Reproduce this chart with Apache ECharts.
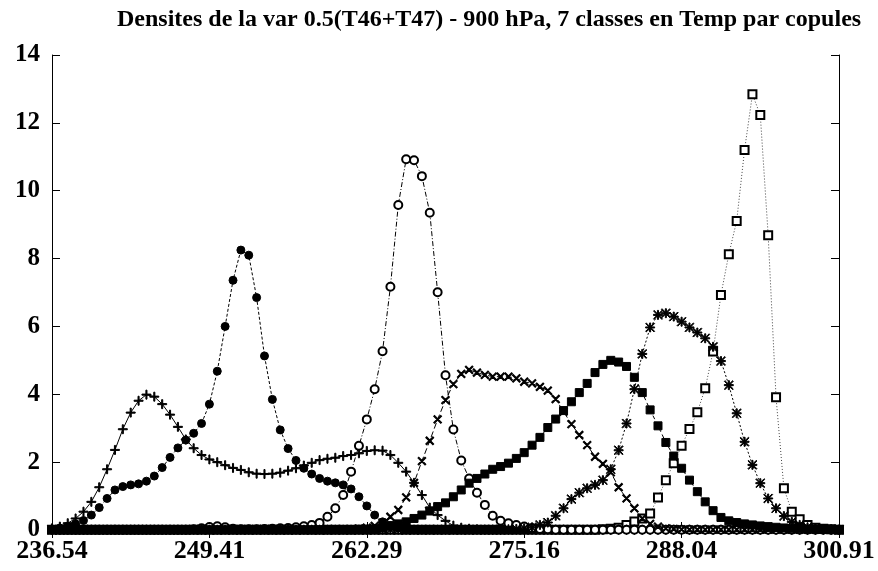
<!DOCTYPE html>
<html>
<head>
<meta charset="utf-8">
<script src="https://cdn.jsdelivr.net/npm/echarts@6/dist/echarts.min.js"></script>
<style>
html,body{margin:0;padding:0;background:#fff;}
#chart{width:878px;height:571px;}
</style>
</head>
<body>
<div id="chart"></div>
<script>
// ---- data ----
const TITLE = 'Densites de la var 0.5(T46+T47) - 900 hPa, 7 classes en Temp par copules';
const X_MIN = 236.54;
const X_MAX = 300.91;
const N_STEPS = 100;
const TICK_VALUES = [236.54, 249.414, 262.288, 275.162, 288.036, 300.91];
const TICK_LABELS = ['236.54', '249.41', '262.29', '275.16', '288.04', '300.91'];
const Y_TICKS = [0, 2, 4, 6, 8, 10, 12, 14];

// class 1 (+, solid)
const plusVals = [
0.05,0.10,0.20,0.34,0.54,0.83,1.26,1.79,2.36,2.97,
3.46,3.81,3.99,3.93,3.71,3.40,3.04,2.67,2.41,2.21,
2.08,2.00,1.91,1.83,1.77,1.70,1.66,1.65,1.66,1.69,
1.75,1.82,1.90,1.98,2.06,2.10,2.13,2.18,2.21,2.26,
2.33,2.35,2.34,2.21,1.98,1.72,1.39,1.03,0.66,0.44,
0.27,0.13,0.07,0.04,0.02,0.01,0.01,0.01,0.01,0.01,
0.01,0.01,0.01,0.01,0.01,0.01,0.01,0.01,0.01,0.01,
0.01,0.01,0.01,0.01,0.01,0.01,0.01,0.01,0.01,0.01,
0.01,0.01,0.01,0.01,0.01,0.01,0.01,0.01,0.01,0.01,
0.01,0.01,0.01,0.01,0.01,0.01,0.01,0.01,0.01,0.01,
0.01];
// class 2 (filled circle, dashed)
const dotVals = [
0.03,0.06,0.11,0.18,0.28,0.44,0.66,0.93,1.18,1.28,
1.33,1.36,1.44,1.59,1.84,2.14,2.42,2.65,2.85,3.14,
3.71,4.68,6.00,7.36,8.25,8.10,6.85,5.13,3.85,2.95,
2.40,2.05,1.82,1.65,1.52,1.44,1.39,1.33,1.21,0.98,
0.71,0.44,0.24,0.12,0.06,0.03,0.02,0.01,0.01,0.01,
0.01,0.01,0.01,0.01,0.01,0.01,0.01,0.01,0.01,0.01,
0.01,0.01,0.01,0.01,0.01,0.01,0.01,0.01,0.01,0.01,
0.01,0.01,0.01,0.01,0.01,0.01,0.01,0.01,0.01,0.01,
0.01,0.01,0.01,0.01,0.01,0.01,0.01,0.01,0.01,0.01,
0.01,0.01,0.01,0.01,0.01,0.01,0.01,0.01,0.01,0.01,
0.01];
// class 3 (open circle, dash-dot)
const ringVals = [
0.01,0.01,0.01,0.01,0.01,0.01,0.01,0.01,0.01,0.01,
0.01,0.01,0.01,0.01,0.01,0.01,0.01,0.01,0.02,0.05,
0.09,0.11,0.08,0.04,0.02,0.02,0.02,0.03,0.04,0.05,
0.06,0.08,0.11,0.15,0.21,0.39,0.64,1.03,1.72,2.48,
3.26,4.15,5.27,7.17,9.58,10.93,10.90,10.43,9.35,7.01,
4.56,2.96,2.05,1.52,1.10,0.74,0.42,0.27,0.20,0.15,
0.10,0.06,0.03,0.02,0.01,0.01,0.01,0.01,0.01,0.01,
0.01,0.01,0.01,0.01,0.01,0.01,0.01,0.01,0.01,0.01,
0.01,0.01,0.01,0.01,0.01,0.01,0.01,0.01,0.01,0.01,
0.01,0.01,0.01,0.01,0.01,0.01,0.01,0.01,0.01,0.01,
0.01];
// class 4 (x, dashed)
const crossVals = [
0.01,0.01,0.01,0.01,0.01,0.01,0.01,0.01,0.01,0.01,
0.01,0.01,0.01,0.01,0.01,0.01,0.01,0.01,0.01,0.01,
0.01,0.01,0.01,0.01,0.01,0.01,0.01,0.01,0.01,0.01,
0.01,0.01,0.01,0.01,0.01,0.01,0.01,0.02,0.02,0.04,
0.07,0.12,0.21,0.39,0.59,0.96,1.39,2.03,2.63,3.26,
3.83,4.30,4.60,4.72,4.64,4.57,4.52,4.52,4.52,4.47,
4.37,4.32,4.22,4.11,3.86,3.49,3.12,2.80,2.50,2.16,
1.95,1.70,1.26,0.93,0.64,0.34,0.18,0.10,0.05,0.03,
0.02,0.01,0.01,0.01,0.01,0.01,0.01,0.01,0.01,0.01,
0.01,0.01,0.01,0.01,0.01,0.01,0.01,0.01,0.01,0.01,
0.01];
// class 5 (filled square)
const squareVals = [
0.01,0.01,0.01,0.01,0.01,0.01,0.01,0.01,0.01,0.01,
0.01,0.01,0.01,0.01,0.01,0.01,0.01,0.01,0.01,0.01,
0.01,0.01,0.01,0.01,0.01,0.01,0.01,0.01,0.01,0.01,
0.01,0.01,0.01,0.01,0.01,0.01,0.01,0.01,0.01,0.02,
0.02,0.03,0.06,0.13,0.18,0.24,0.34,0.44,0.56,0.69,
0.80,0.98,1.18,1.38,1.52,1.65,1.79,1.87,1.97,2.11,
2.28,2.50,2.73,3.02,3.27,3.52,3.78,4.05,4.32,4.64,
4.88,5.00,4.95,4.82,4.50,4.05,3.54,3.07,2.58,2.18,
1.82,1.47,1.13,0.83,0.57,0.37,0.27,0.22,0.18,0.15,
0.12,0.10,0.08,0.06,0.05,0.04,0.03,0.03,0.02,0.02,
0.01];
// class 6 (asterisk)
const starVals = [
0.01,0.01,0.01,0.01,0.01,0.01,0.01,0.01,0.01,0.01,
0.01,0.01,0.01,0.01,0.01,0.01,0.01,0.01,0.01,0.01,
0.01,0.01,0.01,0.01,0.01,0.01,0.01,0.01,0.01,0.01,
0.01,0.01,0.01,0.01,0.01,0.01,0.01,0.01,0.01,0.01,
0.01,0.01,0.01,0.01,0.01,0.01,0.01,0.01,0.01,0.01,
0.01,0.01,0.01,0.01,0.01,0.01,0.01,0.01,0.02,0.03,
0.05,0.08,0.15,0.22,0.42,0.64,0.91,1.10,1.23,1.33,
1.47,1.79,2.35,3.14,4.15,5.19,5.97,6.34,6.39,6.29,
6.14,5.97,5.82,5.65,5.40,4.98,4.27,3.44,2.60,1.92,
1.38,0.93,0.64,0.41,0.24,0.15,0.08,0.05,0.03,0.02,
0.01];
// class 7 (open square, dotted)
const boxVals = [
0.01,0.01,0.01,0.01,0.01,0.01,0.01,0.01,0.01,0.01,
0.01,0.01,0.01,0.01,0.01,0.01,0.01,0.01,0.01,0.01,
0.01,0.01,0.01,0.01,0.01,0.01,0.01,0.01,0.01,0.01,
0.01,0.01,0.01,0.01,0.01,0.01,0.01,0.01,0.01,0.01,
0.01,0.01,0.01,0.01,0.01,0.01,0.01,0.01,0.01,0.01,
0.01,0.01,0.01,0.01,0.01,0.01,0.01,0.01,0.01,0.01,
0.01,0.01,0.01,0.01,0.01,0.01,0.01,0.01,0.01,0.01,
0.02,0.04,0.07,0.15,0.25,0.34,0.49,0.96,1.47,1.97,
2.48,2.98,3.47,4.18,5.26,6.93,8.13,9.11,11.20,12.84,
12.23,8.69,3.91,1.23,0.54,0.32,0.15,0.07,0.04,0.02,
0.01];

// ---- build ----
const step = (X_MAX - X_MIN) / N_STEPS;
function toPoints(vals) {
  return vals.map((v, i) => [X_MIN + i * step, v]);
}
const PLUS = 'path://M0,4.4L10,4.4L10,5.6L0,5.6Z M4.4,0L5.6,0L5.6,10L4.4,10Z';
const STAR = 'path://M0,4.4L10,4.4L10,5.6L0,5.6Z M4.4,0L5.6,0L5.6,10L4.4,10Z M0.7,0L10,9.3L9.3,10L0,0.7Z M9.3,0L10,0.7L0.7,10L0,9.3Z';

function mkSeries(vals, symbol, size, lineType, z, extra) {
  return Object.assign({
    type: 'line',
    data: toPoints(vals),
    symbol: symbol,
    symbolSize: size,
    showAllSymbol: true,
    smooth: false,
    clip: false,
    z: z,
    lineStyle: { color: '#000', width: 1, type: lineType },
    itemStyle: { color: '#000', borderColor: '#000', borderWidth: 1 },
    emphasis: { disabled: true }
  }, extra || {});
}

const FONT = '"Liberation Serif", "DejaVu Serif", serif';
const labelStyle = { fontFamily: FONT, fontWeight: 'bold', fontSize: 25, color: '#000' };

const chart = echarts.init(document.getElementById('chart'), null, { renderer: 'canvas' });
chart.setOption({
  animation: false,
  backgroundColor: '#fff',
  title: {
    text: TITLE,
    left: 112,
    top: 3,
    textStyle: { fontFamily: FONT, fontWeight: 'bold', fontSize: 24, color: '#000' }
  },
  grid: { left: 52, right: 39, top: 55, bottom: 41, containLabel: false },
  xAxis: [
    {
      type: 'value', min: X_MIN, max: X_MAX, position: 'bottom',
      axisLine: { show: true, lineStyle: { color: '#000', width: 1 } },
      axisTick: { show: true, inside: true, length: 8, lineStyle: { color: '#000' }, customValues: TICK_VALUES },
      axisLabel: Object.assign({ margin: 8, customValues: TICK_VALUES,
        formatter: v => { const k = TICK_VALUES.findIndex(t => Math.abs(t - v) < 1e-6); return k >= 0 ? TICK_LABELS[k] : ''; } }, labelStyle, { fontSize: 26 }),
      splitLine: { show: false }
    },
    {
      type: 'value', min: X_MIN, max: X_MAX, position: 'top',
      axisLine: { show: true, lineStyle: { color: '#000', width: 1 } },
      axisTick: { show: true, inside: true, length: 8, lineStyle: { color: '#000' }, customValues: TICK_VALUES },
      axisLabel: { show: false },
      splitLine: { show: false }
    }
  ],
  yAxis: [
    {
      type: 'value', min: 0, max: 14, interval: 2, position: 'left',
      axisLine: { show: true, lineStyle: { color: '#000', width: 1 } },
      axisTick: { show: true, inside: true, length: 8, lineStyle: { color: '#000' } },
      axisLabel: Object.assign({ margin: 12 }, labelStyle),
      splitLine: { show: false }
    },
    {
      type: 'value', min: 0, max: 14, interval: 2, position: 'right',
      axisLine: { show: true, lineStyle: { color: '#000', width: 1 } },
      axisTick: { show: true, inside: true, length: 8, lineStyle: { color: '#000' } },
      axisLabel: { show: false },
      splitLine: { show: false }
    }
  ],
  series: [
    mkSeries(boxVals, 'emptyRect', 8, [1, 2], 2, { lineStyle: { color: '#444', width: 1, type: [1, 2] } }),
    mkSeries(plusVals, PLUS, 9, 'solid', 3),
    mkSeries(dotVals, 'circle', 8, [3, 2], 3),
    mkSeries(ringVals, 'emptyCircle', 8, [5, 2, 1, 2], 3),
    mkSeries(crossVals, PLUS, 10, [6, 3], 3, { symbolRotate: 45 }),
    mkSeries(starVals, STAR, 9, [2, 2], 3),
    mkSeries(squareVals, 'rect', 8, [4, 3], 4)
  ]
});
</script>
</body>
</html>
